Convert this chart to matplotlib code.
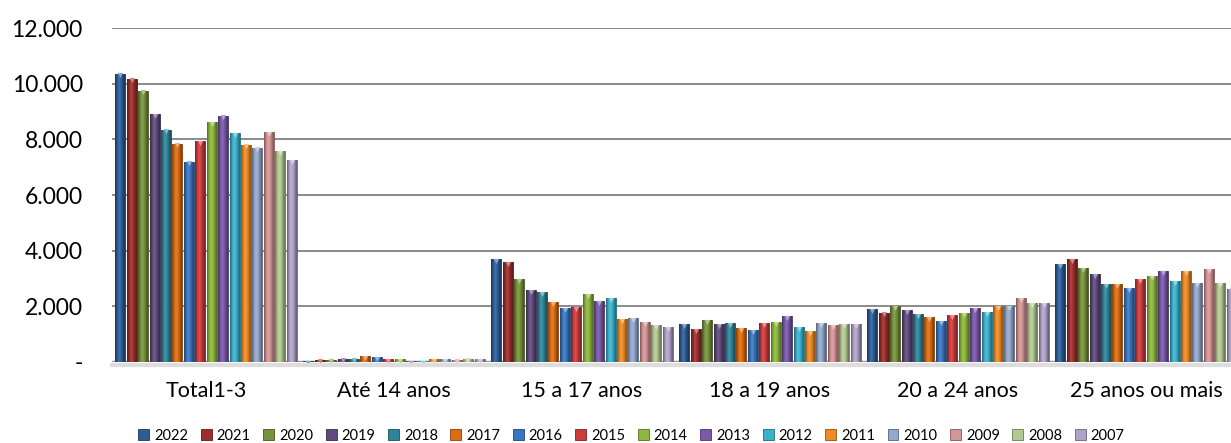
import numpy as np
import matplotlib.pyplot as plt
from matplotlib.colors import to_rgb

plt.rcParams['font.family'] = ['Lato', 'DejaVu Sans']

categories = ["Total1-3", "Até 14 anos", "15 a 17 anos", "18 a 19 anos", "20 a 24 anos", "25 anos ou mais"]
years = ["2022", "2021", "2020", "2019", "2018", "2017", "2016", "2015",
         "2014", "2013", "2012", "2011", "2010", "2009", "2008", "2007"]

# one list per category, values ordered like `years`
total_1_3 = [10370, 10190, 9760, 8900, 8350, 7850, 7200, 7930, 8610, 8860, 8220, 7810, 7700, 8250, 7570, 7250]
ate_14 = [30, 70, 70, 110, 110, 190, 155, 85, 85, 30, 30, 80, 80, 75, 105, 85]
anos_15_17 = [3690, 3590, 2970, 2580, 2510, 2150, 1930, 1970, 2440, 2190, 2280, 1540, 1570, 1430, 1310, 1240]
anos_18_19 = [1360, 1180, 1500, 1360, 1390, 1210, 1140, 1390, 1430, 1650, 1240, 1100, 1390, 1320, 1360, 1360]
anos_20_24 = [1900, 1760, 2000, 1860, 1720, 1610, 1470, 1680, 1750, 1930, 1790, 2000, 2000, 2290, 2110, 2110]
anos_25_mais = [3520, 3700, 3370, 3160, 2800, 2800, 2650, 2980, 3090, 3270, 2900, 3270, 2830, 3340, 2830, 2630]

colors = ["#2c5d98", "#9c2e2b", "#76923c", "#5f4a7e", "#2f8498", "#e06c12",
          "#3a76c0", "#cf3b3b", "#8db83c", "#7a58aa", "#3bb2cc", "#f08a24",
          "#93a8cc", "#d59594", "#b3c993", "#b0a3c9"]

data = np.array([total_1_3, ate_14, anos_15_17, anos_18_19, anos_20_24, anos_25_mais]).T


def shade(c, f):
    r = np.array(to_rgb(c))
    if f >= 1:
        return tuple(r + (1 - r) * (f - 1))
    return tuple(r * f)


fig = plt.figure(figsize=(12.31, 4.43), dpi=100)
ax = fig.add_axes([0.091, 0.1835, 0.9163, 0.7526])

x = np.arange(len(categories))
slot = 0.0608
width = 0.053
# left-to-right light profile, gives the glossy Excel look
profile = np.array([0.62, 0.8, 0.95, 1.08, 1.12, 1.05, 0.95, 0.85, 0.72, 0.6])

for j, year in enumerate(years):
    pos = x + (j - 7.5) * slot
    bars = ax.bar(pos, data[j], width=width, color=colors[j], edgecolor=shade(colors[j], 0.6),
                  lw=0.6, label=year, zorder=3)
    grad = np.array([[shade(colors[j], f) for f in profile]])
    for b in bars:
        x0, h = b.get_x(), b.get_height()
        im = ax.imshow(grad, extent=(x0, x0 + width, 0, h), aspect='auto',
                       interpolation='bicubic', zorder=3.5)
        im.set_clip_path(b)
    ax.scatter(pos, data[j] - 60, marker='v', s=14, color=shade(colors[j], 1.45), lw=0, zorder=4)

ax.set_xlim(-0.5, 5.5)
ax.set_ylim(0, 12000)
ax.set_yticks(np.arange(0, 12001, 2000))
ax.set_yticklabels(["-" if v == 0 else f"{v:,.0f}".replace(",", ".") for v in np.arange(0, 12001, 2000)],
                   fontsize=16.5)
ax.set_xticks(x)
ax.set_xticklabels(categories, fontsize=15.5)
ax.tick_params(axis='y', length=0, pad=21)
ax.tick_params(axis='x', length=0, pad=14)
ax.grid(axis='y', color='#8a8a8a', lw=1.4, zorder=1)
ax.set_axisbelow(True)
for s in ax.spines.values():
    s.set_visible(False)
ax.axhline(0, color='#9a9a9a', lw=2.5, zorder=2)
ax.axhline(-120, color='#dddddd', lw=3, zorder=1, clip_on=False)

fig.legend(loc='center', bbox_to_anchor=(0.513, 0.016), ncol=16, frameon=False,
           fontsize=10.5, handlelength=0.75, handleheight=0.75, handletextpad=0.35,
           columnspacing=0.85)

fig.savefig("out.png", dpi=100)
